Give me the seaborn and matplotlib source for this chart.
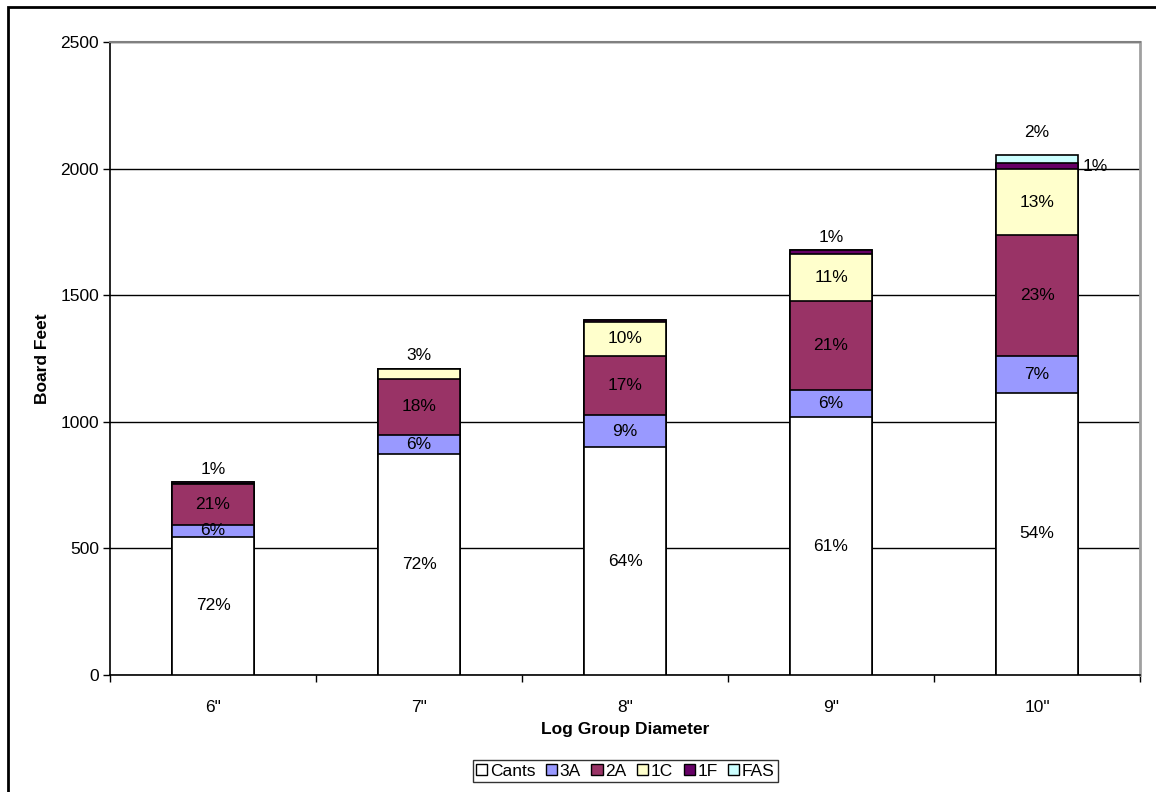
import numpy as np
import pandas as pd
import matplotlib
matplotlib.use("Agg")
import matplotlib.pyplot as plt
from matplotlib.patches import Rectangle
import seaborn as sns

# Board feet by grade for each log diameter group
diameters = ['6"', '7"', '8"', '9"', '10"']
grades = ["Cants", "3A", "2A", "1C", "1F", "FAS"]
cants = [547, 873, 900, 1019, 1114]
grade_3a = [46, 75, 125, 107, 146]
grade_2a = [160, 221, 235, 351, 478]
grade_1c = [0, 40, 136, 186, 260]
grade_1f = [8, 0, 5, 15, 24]
grade_fas = [0, 0, 0, 0, 32]

colors = ["#FFFFFF", "#9999FF", "#993366", "#FFFFCC", "#660066", "#CCFFFF"]

sns.set_theme(style="white")
plt.rcParams["font.family"] = ["Liberation Sans", "DejaVu Sans"]
plt.rcParams.update({"text.color": "black", "axes.labelcolor": "black",
                     "xtick.color": "black", "ytick.color": "black"})

FS = 12.5

values = np.array([cants, grade_3a, grade_2a, grade_1c, grade_1f, grade_fas], dtype=float)
cum = values.cumsum(axis=0)
totals = cum[-1]

fig = plt.figure(figsize=(11.56, 7.92), dpi=100)
ax = fig.add_axes([0.0952, 0.1477, 0.8910, 0.7993])

# Stacked bars: draw cumulative heights from the top grade down
for i in range(len(grades) - 1, -1, -1):
    df = pd.DataFrame({"diam": diameters, "bf": cum[i]})
    sns.barplot(data=df, x="diam", y="bf", color=colors[i], saturation=1,
                edgecolor="black", linewidth=1.2, width=0.4, ax=ax, zorder=3)

# Percentage labels
for j in range(len(diameters)):
    present = [i for i in range(len(grades)) if values[i, j] > 0]
    top = present[-1]
    for i in present:
        pct = int(round(values[i, j] / totals[j] * 100))
        if pct == 0:
            continue
        bottom = cum[i, j] - values[i, j]
        mid = bottom + values[i, j] / 2
        if values[i, j] >= 44:
            ax.text(j, mid, f"{pct}%", ha="center", va="center", fontsize=FS, zorder=5)
        elif i == top:
            off = 11 if j == 4 else 4
            ax.annotate(f"{pct}%", (j, cum[i, j]), xytext=(0, off),
                        textcoords="offset points", ha="center", va="bottom",
                        fontsize=FS, zorder=5)
        else:
            ax.text(j + 0.22, mid, f"{pct}%", ha="left", va="center", fontsize=FS, zorder=5)

ax.set_ylim(0, 2500)
ax.set_xlim(-0.5, len(diameters) - 0.5)
ax.set_yticks(np.arange(0, 2501, 500))
ax.yaxis.grid(True, color="black", linewidth=1)
ax.set_axisbelow(True)

ax.spines["left"].set_color("black")
ax.spines["bottom"].set_color("black")
ax.spines["left"].set_linewidth(1.2)
ax.spines["bottom"].set_linewidth(1.2)
ax.spines["top"].set_color("#808080")
ax.spines["right"].set_color("#A0A0A0")
ax.spines["top"].set_linewidth(1.5)
ax.spines["right"].set_linewidth(2)

ax.tick_params(axis="y", which="major", left=True, length=5, width=1, color="black",
               labelsize=FS, pad=3, direction="out")
ax.tick_params(axis="x", which="major", bottom=False, labelsize=FS, pad=12)
ax.set_xticks(np.arange(-0.5, len(diameters), 1.0), minor=True)
ax.tick_params(axis="x", which="minor", bottom=True, length=5, width=1, color="black",
               direction="out")

ax.set_xlabel("Log Group Diameter", fontsize=FS, fontweight="bold", labelpad=5)
ax.set_ylabel("Board Feet", fontsize=FS, fontweight="bold", labelpad=7)

handles = [Rectangle((0, 0), 1, 1, facecolor=c, edgecolor="black", linewidth=1)
           for c in colors]
leg = fig.legend(handles, grades, loc="center", bbox_to_anchor=(0.541, 0.0265),
                 ncol=6, frameon=True, fontsize=FS, handlelength=0.65, handleheight=0.65,
                 handletextpad=0.15, columnspacing=0.6, borderpad=0.2,
                 fancybox=False, edgecolor="black")
leg.get_frame().set_linewidth(1)

# Outer chart border
fig.patches.append(Rectangle((8 / 1156, -0.1), 1.2, 1.1 - 7 / 792,
                             transform=fig.transFigure, fill=False,
                             edgecolor="black", linewidth=2))

fig.savefig("out.png", dpi=100)
